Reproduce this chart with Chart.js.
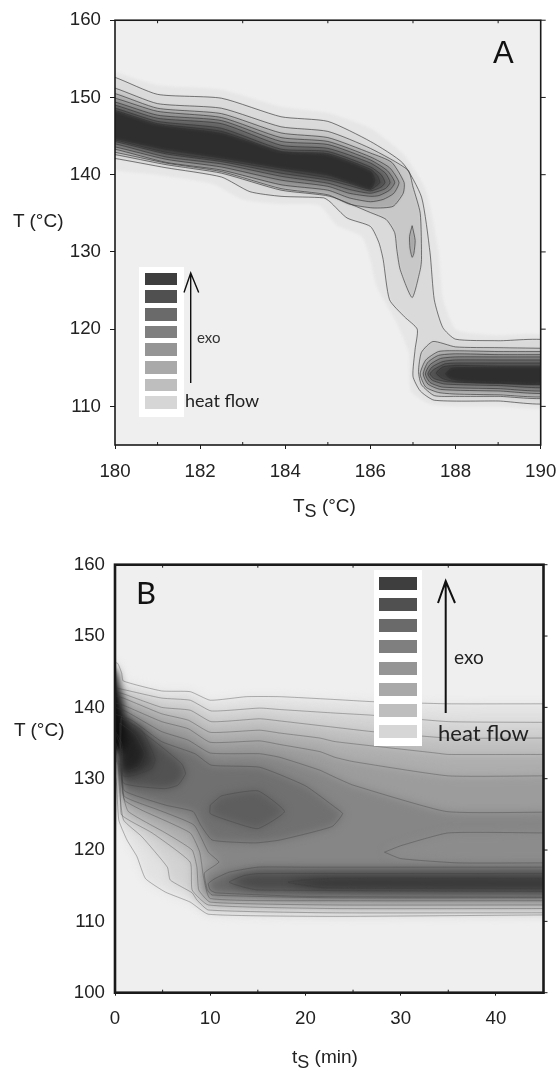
<!DOCTYPE html>
<html>
<head>
<meta charset="utf-8">
<script src="https://cdn.jsdelivr.net/npm/chart.js@4"></script>
<style>
body { margin: 0; background: #fff; }
#page { position: relative; width: 558px; height: 1068px; overflow: hidden; }
canvas { position: absolute; left: 0; }
.t { position: absolute; font-family: "Liberation Sans"; font-size: 19px; color: #222; white-space: nowrap; line-height: 20px; }
.t sub { font-size: 18px; vertical-align: -5px; line-height: 0; }
.lab { font-family: Lato; color: #222; }
.box { position: absolute; background: #fff; }
.sw { position: absolute; }
svg { position: absolute; left: 0; top: 0; }
</style>
</head>
<body>
<div id="page">
<canvas id="chartA" width="558" height="520" style="top:0"></canvas>
<canvas id="chartB" width="558" height="538" style="top:530px"></canvas>

<div class="t" style="left:13px;top:211px">T (°C)</div>
<div class="t" style="left:293px;top:496px">T<sub>S</sub> (°C)</div>
<div class="t" style="left:14px;top:720px">T (°C)</div>
<div class="t" style="left:292px;top:1047px">t<sub>S</sub> (min)</div>
<div class="t" style="left:493px;top:38px;font-size:31px;line-height:30px;color:#111">A</div>
<div class="t lab" style="left:136px;top:576px;font-size:31px;line-height:32px;color:#111">B</div>

<div class="box" id="boxA" style="left:139px;top:267px;width:45px;height:150px"></div>
<div class="box" id="boxB" style="left:374px;top:570px;width:48px;height:176px"></div>
<svg width="558" height="1068">
  <path d="M190.7 383V274M184 292.5L190.7 273L198.7 292.5" fill="none" stroke="#111" stroke-width="1.4"/>
  <path d="M445.7 713V581M438 603L445.7 581L455 603" fill="none" stroke="#111" stroke-width="2"/>
</svg>
<div class="t lab" style="left:197px;top:327px;font-size:15px;color:#333">exo</div>
<div class="t lab" style="left:185px;top:390px;font-size:18px;color:#222">heat flow</div>
<div class="t lab" style="left:454px;top:647px;font-size:19px;color:#222">exo</div>
<div class="t lab" style="left:438px;top:723px;font-size:22px;color:#222">heat flow</div>
</div>

<script>
// tick labels
const aXTicks = [180, 182, 184, 186, 188, 190];
const aXMinor = [181, 183, 185, 187, 189];
const aYTicks = [110, 120, 130, 140, 150, 160];
const bXTicks = [0, 10, 20, 30, 40];
const bXMinor = [5, 15, 25, 35];
const bYTicks = [100, 110, 120, 130, 140, 150, 160];

// legend greys, dark to light
const legendGreys = ['#3e3e3e', '#505050', '#6a6a6a', '#7f7f7f', '#959595', '#a9a9a9', '#bebebe', '#d6d6d6'];

// panel A contours: [Ts, T]
const aHalo = [[179.7,153.9],[181,151.6],[182.5,151],[183.9,148.8],[185,148],[186,146],[186.8,142.5],[187.3,138],[187.6,130],[187.7,124],[188,120],[188.5,119.4],[189,119.2],[190.3,119],[190.3,110],[189,110],[188,110],[187.4,110.3],[186.95,112],[186.9,117],[186.6,121],[186.15,125.5],[186,129],[185.8,132],[185.2,133.5],[184.8,136],[183.9,136.2],[183,136.8],[182.3,138.8],[181,140],[179.7,141.3]];
const aLevel1 = [[179.7,152.8],[180,152.6],[181,150.4],[182.5,149.9],[183.9,147.5],[185,146.9],[186,144.3],[186.76,141.5],[187.2,137.1],[187.4,129.9],[187.5,123.8],[187.7,120.2],[188,118.7],[189,118.5],[190.3,118.3],[190.3,110.6],[189,110.7],[187.5,110.8],[187.17,112],[187,113.9],[187.05,117.4],[187.1,120],[186.8,121.6],[186.45,123.8],[186.3,129],[186.2,131.2],[186,133.3],[185.45,134.4],[185.05,136.5],[184.9,137],[183.9,137.2],[183.17,137.8],[182.5,139.7],[181.2,140.9],[180,142.1],[179.7,142.2]];
const aLevel2 = [[179.7,151.3],[180,151.2],[181,149.2],[182.5,148.6],[183.9,146.2],[185,145.6],[186,143.4],[186.88,140.6],[187,138.4],[187.17,135],[187.2,129],[187.17,127.7],[186.98,124.1],[186.7,127.7],[186.62,130.3],[186.57,132.5],[186.37,134.2],[186,135.1],[185.05,137.2],[183.9,138],[182.5,140.2],[181.2,141.3],[180,142.6],[179.7,142.7]];
const aLevel3 = [[179.7,150.6],[180,150.5],[181,148.6],[182.5,147.9],[183.9,145.4],[185,144.8],[186,142.8],[186.5,141.6],[186.79,139],[186.77,137.6],[186.53,135.9],[186.06,135.7],[185.5,136.2],[185,137.4],[183.9,138.2],[182.5,140.4],[181.2,141.5],[180,142.9],[179.7,143]];
const aLevel4 = [[179.7,150],[180,149.9],[181,148.2],[182.5,147.4],[183.9,144.8],[185,144.3],[186,142.3],[186.45,140.9],[186.67,139],[186.55,137.6],[186.3,136.8],[186,136.5],[185.5,137],[185,138],[183.9,138.7],[182.5,140.6],[181.2,141.6],[180,143.3],[179.7,143.4]];
const aLevel5 = [[179.7,149.5],[180,149.4],[181,147.7],[182.5,147],[183.9,144.3],[185,143.9],[186,141.9],[186.4,140.5],[186.57,139],[186.45,138],[186.2,137.3],[186,137.2],[185.5,137.6],[185,138.5],[183.9,139.3],[182.5,141],[181.2,142],[180,143.6],[179.7,143.7]];
const aLevel6 = [[179.7,149.1],[180,149],[181,147.3],[182.5,146.6],[183.9,143.8],[185,143.4],[186,141.5],[186.35,140.2],[186.46,139],[186.35,138.2],[186,137.6],[185.5,138.1],[185,138.9],[183.9,139.8],[182.5,141.4],[181.2,142.3],[180,144],[179.7,144.1]];
const aLevel7 = [[179.7,148.7],[180,148.6],[181,146.9],[182.5,146],[183.9,143.3],[185,143],[186,141],[186.25,140],[186.34,139],[186.25,138.4],[186,137.9],[185.5,138.6],[185,139.3],[183.9,140.2],[182.5,141.7],[181.2,142.7],[180,144.3],[179.7,144.4]];
const aLevel8 = [[179.7,148.4],[180,148.3],[181,146.6],[182.5,145.6],[183.9,143],[185,142.7],[186,140.7],[186.17,139.8],[186.22,139],[186.15,138.6],[186,138.1],[185.5,138.9],[185,139.6],[183.9,140.6],[182.5,141.9],[181.2,142.9],[180,144.5],[179.7,144.6]];
const aCore = [[179.7,148.2],[180,148.1],[181,146.4],[182.5,145.3],[183.9,142.9],[185,142.5],[186,140.4],[186.1,139.3],[186.05,138.5],[186,138.2],[185.5,139.1],[185,140],[183.9,140.9],[182.5,142.2],[181.2,143.3],[180,144.7],[179.7,144.8]];
const aIsland = [[186.98,133.4],[187.05,131.5],[187.02,129.8],[186.98,129.3],[186.93,130.5],[186.92,132]];
const aBand2 = [[190.3,117.5],[189,117.6],[188,117.7],[187.47,118.4],[187.2,117],[187.13,114.5],[187.2,112.8],[187.5,111.4],[188,111.3],[189,111.3],[190.3,111.3]];
const aBand3 = [[190.3,117.1],[189,117.1],[188,117.2],[187.6,117.1],[187.3,116],[187.17,114.2],[187.3,112.5],[187.6,111.8],[188,111.6],[189,111.5],[190.3,111.5]];
const aBand4 = [[190.3,116.7],[189,116.7],[188,116.8],[187.6,116.6],[187.35,115.7],[187.24,114.2],[187.35,112.9],[187.65,112.2],[189,112],[190.3,111.9]];
const aBand5 = [[190.3,116.4],[189,116.4],[188,116.4],[187.65,116.2],[187.4,115.4],[187.29,114.2],[187.4,113.1],[187.7,112.5],[189,112.3],[190.3,112.2]];
const aBand6 = [[190.3,116],[189,116],[188,116],[187.7,115.8],[187.45,115.1],[187.35,114.2],[187.45,113.4],[187.75,112.9],[189,112.7],[190.3,112.6]];
const aBand7 = [[190.3,115.6],[189,115.6],[188,115.6],[187.75,115.5],[187.5,114.8],[187.4,114.2],[187.5,113.6],[187.8,113.2],[189,113],[190.3,113]];
const aBand8 = [[190.3,115.2],[189,115.2],[188,115.3],[187.7,115.1],[187.55,114.3],[187.7,113.6],[188,113.2],[189,113],[190.3,113]];
const aBandCore = [[190.3,115],[189,115],[188.2,115],[187.9,114.9],[187.77,114.2],[187.9,113.6],[188.2,113.3],[189,113.1],[190.3,113.1]];

// panel B contours: [ts, T]
const bLevel1 = [[-1,146.2],[0.25,146.2],[0.7,144.8],[0.87,143.7],[4.9,142.3],[7.9,142.2],[10,141],[13.8,141.5],[17.3,141.5],[23.1,141.1],[27,140.8],[35,140.5],[45,140.5],[48,140.5],[48,110.9],[45,110.9],[22.8,110.7],[9.8,111],[7.9,112.7],[5.3,114.1],[3.2,116],[2.3,119.1],[1.26,121.4],[0.4,124.2],[0.1,130],[-1,135]];
const bLevel2 = [[-1,143],[0.87,142.5],[4.9,141.3],[7.9,141],[10.1,139.5],[15.2,139.9],[17.3,139.7],[23.1,139.2],[27,138.9],[35,138],[45,137.9],[48,137.9],[48,111.2],[45,111.2],[22.8,111.2],[9.8,111.6],[8.6,113],[8.1,114],[5.8,115.8],[5.5,117.6],[2.8,121.9],[0.9,124.2],[0.5,128],[0.3,132],[-1,136]];
const bLevel3 = [[-1,142.5],[0.87,141.9],[4.9,140],[7.9,139.6],[10.1,138],[15.2,138.4],[17.3,138.1],[23.1,137.2],[27,136.6],[35,135.7],[45,135.7],[48,135.7],[48,111.8],[45,111.8],[22.8,111.8],[9.8,112.3],[8.1,114.4],[7.9,118.3],[3.9,122.4],[0.7,124.9],[0.6,128],[0.4,132],[-1,137]];
const bLevel4 = [[-1,142],[0.87,141.3],[4.9,139.1],[7.7,138.2],[10,136.5],[15.2,136.8],[17.3,136.4],[21.5,135.7],[23.1,135.2],[33.7,133.6],[35,133.4],[45,133.4],[48,133.4],[48,112.3],[45,112.3],[22.8,112.3],[10,112.7],[8.8,114.4],[8.6,117.6],[8.1,120],[5.3,122.4],[1.4,125.4],[0.8,128],[0.5,132],[-1,138]];
const bLevel5 = [[-1,141],[0.87,140.3],[4.9,138],[7.7,137],[10,135.1],[15.2,135.3],[17.3,134.8],[21.5,133.8],[23.1,133],[25,132.4],[35,130.4],[45,130.4],[48,130.4],[48,112.9],[45,112.9],[22.8,112.9],[10,113.2],[9.3,116.2],[8.9,119.7],[7.9,122.4],[2.8,125.6],[1,127],[0.7,130],[0.6,133],[-1,139]];
const bLevel6 = [[-1,140.5],[1.2,139.4],[4.9,136.6],[7.7,135.4],[10,133.6],[15.2,133.5],[17.3,133],[21.5,131.2],[23.1,130.2],[25,129.1],[34.8,125.4],[45,125.3],[48,125.3],[48,113.3],[45,113.3],[22.8,113.3],[10.2,113.7],[9.7,114.4],[9.4,116.8],[10.9,118.3],[9.8,119.7],[8.3,123.5],[4.6,125.6],[1,127.5],[0.75,130],[0.7,134],[-1,140]];
const bHollow = [[28.3,119.7],[30,120.6],[35,122.4],[45,122.4],[48,122.4],[48,118.2],[45,118.2],[36,118.2],[30,118.8]];
const bLevel7 = [[-1,139.5],[1.75,138.2],[4.9,135.2],[8.4,133.5],[10.1,131.9],[15.2,131.6],[20,129],[23.1,126],[23.9,125.1],[22.8,123.3],[17.3,121.4],[14.7,121],[10.2,121.4],[9,123.5],[8.2,125.4],[5.3,126.3],[1,128.3],[0.75,131],[0.7,135],[-1,139]];
const bRidge = [[10,126.3],[11.2,127.6],[15,128.3],[17.8,125.4],[15,123],[12.2,124],[10,125.1]];
const bLobe1 = [[0.7,138.8],[2.1,137.3],[4.2,135.2],[7,132.1],[7.4,130.7],[6.6,129.1],[5.2,128.6],[0.87,129.4],[0.6,134]];
const bLobe2 = [[0.6,138.5],[2.8,136.8],[4.2,132.8],[3.85,131.4],[2.1,130.5],[0.87,130.4],[0.5,134]];
const bPeak = [[0.5,137.8],[2.1,136.2],[3.1,133.5],[2.5,131.7],[0.87,131],[0.6,134]];
const bColumn = [[-1,146],[0.1,145],[0.7,141.5],[1.1,137.5],[0.9,134],[-1,134]];
const bBand1 = [[48,117.6],[45,117.6],[20,117.6],[15,117.6],[12,116.9],[10.5,116],[9.8,115.3],[10,114.4],[10.6,114],[20,113.5],[45,113.4],[48,113.4]];
const bBand2 = [[48,116.7],[45,116.7],[15,116.7],[13.5,116.4],[12,115.5],[13.5,114.8],[15,114.4],[45,114.2],[48,114.2]];
const bBand3 = [[48,116],[45,116],[22,116],[18.2,115.5],[22,114.7],[45,114.6],[48,114.6]];

// shapes in drawing order, paired with their grey
const aShapes = [
    [aHalo, '#e6e6e6', false], [aLevel1, '#dadada', true], [aLevel2, '#c8c8c8', true], [aIsland, '#a8a8a8', true],
    [aLevel3, '#acacac', true], [aLevel4, '#949494', true], [aLevel5, '#7c7c7c', true], [aLevel6, '#666666', true],
    [aLevel7, '#525252', true], [aLevel8, '#404040', true], [aCore, '#2e2e2e', true],
    [aBand2, '#c8c8c8', true], [aBand3, '#acacac', true], [aBand4, '#949494', true], [aBand5, '#7c7c7c', true],
    [aBand6, '#666666', true], [aBand7, '#525252', true], [aBand8, '#404040', true], [aBandCore, '#2e2e2e', true]
];
const bShapes = [
    [bLevel1, '#e2e2e2', true], [bLevel2, '#d2d2d2', true], [bLevel3, '#c0c0c0', true], [bLevel4, '#aeaeae', true],
    [bLevel5, '#9c9c9c', true], [bLevel6, '#868686', true], [bHollow, '#8c8c8c', true], [bLevel7, '#707070', true],
    [bRidge, '#5e5e5e', true], [bLobe1, '#525252', true], [bLobe2, '#3a3a3a', true], [bPeak, '#222222', true],
    [bColumn, '#0c0c0c', false], [bBand1, '#686868', true], [bBand2, '#4a4a4a', true], [bBand3, '#363636', true]
];

function closed(shape) {
    return shape.concat([shape[0]]).map(p => ({ x: p[0], y: p[1] }));
}

// fills first, contour lines on top of them
function buildDatasets(shapes, lineColor, tension) {
    const fills = shapes.map(s => ({
        data: closed(s[0]),
        showLine: true,
        fill: 'shape',
        backgroundColor: s[1],
        borderWidth: 0,
        pointRadius: 0,
        tension: tension
    }));
    const lines = shapes.filter(s => s[2]).map(s => ({
        data: closed(s[0]),
        showLine: true,
        fill: false,
        borderColor: lineColor,
        borderWidth: 0.9,
        pointRadius: 0,
        tension: tension
    }));
    const all = fills.concat(lines);
    all.forEach((d, i) => { d.order = all.length - i; });
    return all;
}

const tickFont = { family: 'Liberation Sans', size: 18.7 };

// plot background, blur on the fills, frame and the small extra ticks
function panelPlugin(blur, frameWidth, xMinor, yTicks, rightTick) {
    return {
        id: 'panel',
        beforeDatasetsDraw(chart) {
            const c = chart.ctx, a = chart.chartArea;
            c.save();
            c.fillStyle = '#efefef';
            c.fillRect(a.left, a.top, a.right - a.left, a.bottom - a.top);
            c.restore();
            c.filter = 'blur(' + blur + 'px)';
        },
        beforeDatasetDraw(chart, args) {
            if (chart.data.datasets[args.index].fill === false) chart.ctx.filter = 'none';
        },
        afterDatasetsDraw(chart) {
            const c = chart.ctx, a = chart.chartArea, sx = chart.scales.x, sy = chart.scales.y;
            c.save();
            c.filter = 'none';
            c.strokeStyle = '#1a1a1a';
            c.lineWidth = 1;
            xMinor.forEach(v => {
                const px = sx.getPixelForValue(v);
                c.beginPath();
                c.moveTo(px, a.top); c.lineTo(px, a.top + 3);
                c.moveTo(px, a.bottom); c.lineTo(px, a.bottom - 3);
                c.stroke();
            });
            yTicks.forEach(v => {
                const py = sy.getPixelForValue(v);
                c.beginPath();
                c.moveTo(a.right, py); c.lineTo(a.right + rightTick, py);
                c.stroke();
            });
            c.lineWidth = frameWidth;
            c.strokeRect(a.left, a.top, a.right - a.left, a.bottom - a.top);
            c.restore();
        }
    };
}

function axis(min, max, ticks, size, tickLength, padding) {
    return {
        type: 'linear',
        min: min,
        max: max,
        afterBuildTicks(s) { s.ticks = ticks.map(v => ({ value: v })); },
        afterFit(s) {
            if (s.isHorizontal()) s.height = size; else s.width = size;
            s.paddingLeft = 0;
            s.paddingRight = 0;
        },
        border: { display: false },
        grid: { drawOnChartArea: false, drawTicks: tickLength > 0, tickLength: tickLength, color: '#1a1a1a' },
        ticks: { font: tickFont, color: '#222', padding: padding, maxRotation: 0, autoSkip: false }
    };
}

new Chart(document.getElementById('chartA'), {
    type: 'scatter',
    data: { datasets: buildDatasets(aShapes, 'rgba(50,50,50,0.7)', 0.2) },
    options: {
        responsive: false,
        animation: false,
        layout: { padding: { top: 20, right: 17.3, left: 0, bottom: 0 } },
        plugins: { legend: { display: false }, tooltip: { enabled: false } },
        scales: {
            x: axis(180, 190, aXTicks, 75, 4, 12),
            y: axis(105, 160, aYTicks, 115, 5, 9)
        }
    },
    plugins: [panelPlugin(1.2, 1.6, aXMinor, aYTicks, 5)]
});

new Chart(document.getElementById('chartB'), {
    type: 'scatter',
    data: { datasets: buildDatasets(bShapes, 'rgba(60,60,60,0.4)', 0.15) },
    options: {
        responsive: false,
        animation: false,
        layout: { padding: { top: 34.7, right: 14.5, left: 0, bottom: 0 } },
        plugins: { legend: { display: false }, tooltip: { enabled: false } },
        scales: {
            x: axis(0, 45, bXTicks, 75.3, 3, 12),
            y: axis(100, 160, bYTicks, 115, 0, 10)
        }
    },
    plugins: [panelPlugin(4, 2.6, bXMinor, bYTicks, 4)]
});

// legend swatches
function swatches(box, left, top, step, w, h) {
    legendGreys.forEach((g, i) => {
        const d = document.createElement('div');
        d.className = 'sw';
        d.style.cssText = 'left:' + left + 'px;top:' + (top + i * step) + 'px;width:' + w + 'px;height:' + h + 'px;background:' + g;
        document.getElementById(box).appendChild(d);
    });
}
swatches('boxA', 6, 5.7, 17.65, 32, 12.7);
swatches('boxB', 5, 6.7, 21.25, 38, 13);
</script>
</body>
</html>
